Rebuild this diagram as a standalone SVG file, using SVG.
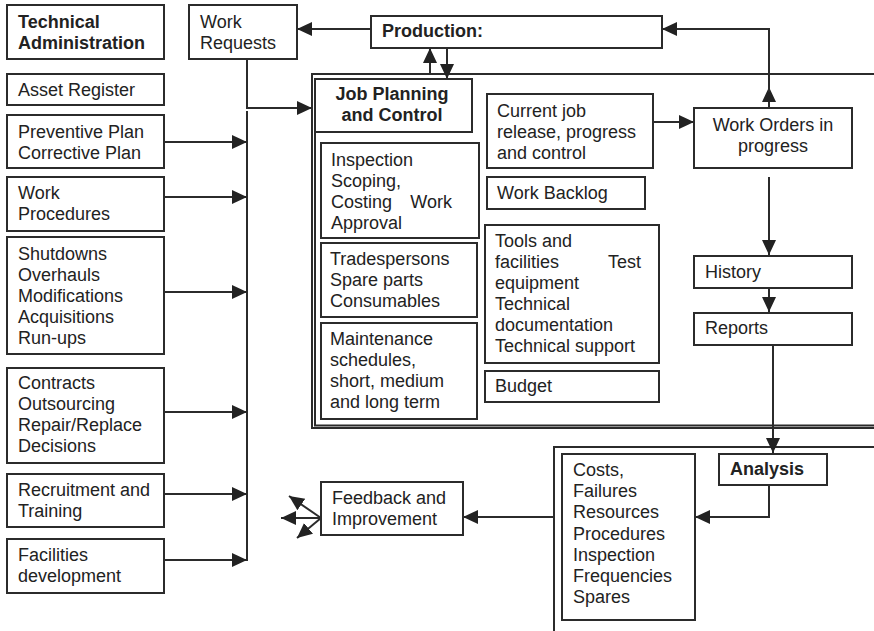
<svg xmlns="http://www.w3.org/2000/svg" width="874" height="631" viewBox="0 0 874 631">
<style>
.b{fill:#fff;stroke:#2b2b2b;stroke-width:2}
.f{fill:none;stroke:#2b2b2b;stroke-width:2}
.c{fill:none;stroke:#2b2b2b;stroke-width:2}
text{font-family:"Liberation Sans",Arial,Helvetica,sans-serif;font-size:18px;fill:#222}
.bd{font-weight:bold}
.m{text-anchor:middle}
</style>
<defs>
<marker id="ah" markerUnits="userSpaceOnUse" markerWidth="16" markerHeight="16" refX="15" refY="7" orient="auto">
<path d="M0,0 L15,7 L0,14 z" fill="#222"/>
</marker>
</defs>
<rect width="874" height="631" fill="#fff"/>

<g id="frames">
<path class="f" d="M874,74 H312 V428 H874"/>
<path class="f" d="M315,132 V425.5 H874"/>
<path class="f" d="M874,447 H554 V631"/>
</g>

<g id="connectors">
<path class="c" d="M247,59 V108 H312" marker-end="url(#ah)"/>
<path class="c" d="M247,111 V561"/>
<path class="c" d="M164,142 H247" marker-end="url(#ah)"/>
<path class="c" d="M164,197 H247" marker-end="url(#ah)"/>
<path class="c" d="M164,292 H247" marker-end="url(#ah)"/>
<path class="c" d="M164,412 H247" marker-end="url(#ah)"/>
<path class="c" d="M164,494 H247" marker-end="url(#ah)"/>
<path class="c" d="M164,560 H247" marker-end="url(#ah)"/>
<path class="c" d="M371,29 H297" marker-end="url(#ah)"/>
<path class="c" d="M430,74 V48" marker-end="url(#ah)"/>
<path class="c" d="M447,48 V79" marker-end="url(#ah)"/>
<path class="c" d="M653,122 H694" marker-end="url(#ah)"/>
<path class="c" d="M769,108 V87" marker-end="url(#ah)"/>
<path class="c" d="M769,92 V29 H662" marker-end="url(#ah)"/>
<path class="c" d="M769,177 V255" marker-end="url(#ah)"/>
<path class="c" d="M769,285 V312" marker-end="url(#ah)"/>
<path class="c" d="M773,345 V453" marker-end="url(#ah)"/>
<path class="c" d="M769,485 V517 H695" marker-end="url(#ah)"/>
<path class="c" d="M554,517 H463" marker-end="url(#ah)"/>
<path class="c" d="M321,518 H281" marker-end="url(#ah)"/>
<path class="c" d="M321,518 L289,496" marker-end="url(#ah)"/>
<path class="c" d="M321,518 L297,538" marker-end="url(#ah)"/>
</g>

<g id="tech-admin"><rect class="b" x="7" y="5" width="157" height="54"/>
<text class="bd" x="18" y="28">Technical</text><text class="bd" x="18" y="49">Administration</text></g>
<g id="asset-register"><rect class="b" x="7" y="74" width="157" height="31"/>
<text x="18" y="96">Asset Register</text></g>
<g id="plans"><rect class="b" x="7" y="115" width="157" height="53"/>
<text x="18" y="138">Preventive Plan</text><text x="18" y="159">Corrective Plan</text></g>
<g id="work-procedures"><rect class="b" x="7" y="177" width="157" height="54"/>
<text x="18" y="199">Work</text><text x="18" y="220">Procedures</text></g>
<g id="shutdowns"><rect class="b" x="7" y="237" width="157" height="117"/>
<text x="18" y="260">Shutdowns</text><text x="18" y="281">Overhauls</text><text x="18" y="302">Modifications</text><text x="18" y="323">Acquisitions</text><text x="18" y="344">Run-ups</text></g>
<g id="contracts"><rect class="b" x="7" y="368" width="157" height="95"/>
<text x="18" y="389">Contracts</text><text x="18" y="410">Outsourcing</text><text x="18" y="431">Repair/Replace</text><text x="18" y="452">Decisions</text></g>
<g id="recruitment"><rect class="b" x="7" y="474" width="157" height="53"/>
<text x="18" y="496">Recruitment and</text><text x="18" y="517">Training</text></g>
<g id="facilities"><rect class="b" x="7" y="539" width="157" height="54"/>
<text x="18" y="561">Facilities</text><text x="18" y="582">development</text></g>

<g id="work-requests"><rect class="b" x="189" y="5" width="108" height="54"/>
<text x="200" y="28">Work</text><text x="200" y="49">Requests</text></g>
<g id="production"><rect class="b" x="371" y="16" width="291" height="32"/>
<text class="bd" x="382" y="37">Production:</text></g>

<g id="job-planning"><rect class="b" x="315" y="79" width="157" height="53"/>
<text class="bd m" x="392" y="100">Job Planning</text><text class="bd m" x="392" y="121">and Control</text></g>
<g id="inspection"><rect class="b" x="321" y="143" width="158" height="95"/>
<text x="331" y="166">Inspection</text><text x="331" y="187">Scoping,</text><text x="331" y="208">Costing</text><text x="452" y="208" text-anchor="end">Work</text><text x="331" y="229">Approval</text></g>
<g id="tradespersons"><rect class="b" x="321" y="243" width="156" height="74"/>
<text x="330" y="265">Tradespersons</text><text x="330" y="286">Spare parts</text><text x="330" y="307">Consumables</text></g>
<g id="maintenance"><rect class="b" x="321" y="323" width="156" height="96"/>
<text x="330" y="345">Maintenance</text><text x="330" y="366">schedules,</text><text x="330" y="387">short, medium</text><text x="330" y="408">and long term</text></g>

<g id="current-job"><rect class="b" x="487" y="94" width="166" height="74"/>
<text x="497" y="117">Current job</text><text x="497" y="138">release, progress</text><text x="497" y="159">and control</text></g>
<g id="work-backlog"><rect class="b" x="487" y="177" width="158" height="32"/>
<text x="497" y="199">Work Backlog</text></g>
<g id="tools"><rect class="b" x="485" y="225" width="174" height="138"/>
<text x="495" y="247">Tools and</text><text x="495" y="268">facilities</text><text x="641" y="268" text-anchor="end">Test</text><text x="495" y="289">equipment</text><text x="495" y="310">Technical</text><text x="495" y="331">documentation</text><text x="495" y="352">Technical support</text></g>
<g id="budget"><rect class="b" x="485" y="371" width="174" height="31"/>
<text x="495" y="392">Budget</text></g>

<g id="work-orders"><rect class="b" x="694" y="108" width="158" height="60"/>
<text class="m" x="773" y="131">Work Orders in</text><text class="m" x="773" y="152">progress</text></g>
<g id="history"><rect class="b" x="694" y="256" width="158" height="32"/>
<text x="705" y="278">History</text></g>
<g id="reports"><rect class="b" x="694" y="313" width="158" height="32"/>
<text x="705" y="334">Reports</text></g>

<g id="analysis"><rect class="b" x="719" y="454" width="108" height="31"/>
<text class="bd" x="730" y="475">Analysis</text></g>
<g id="costs"><rect class="b" x="562" y="454" width="133" height="166"/>
<text x="573" y="476">Costs,</text><text x="573" y="497">Failures</text><text x="573" y="518">Resources</text><text x="573" y="540">Procedures</text><text x="573" y="561">Inspection</text><text x="573" y="582">Frequencies</text><text x="573" y="603">Spares</text></g>
<g id="feedback"><rect class="b" x="321" y="482" width="142" height="53"/>
<text x="332" y="504">Feedback and</text><text x="332" y="525">Improvement</text></g>
</svg>
